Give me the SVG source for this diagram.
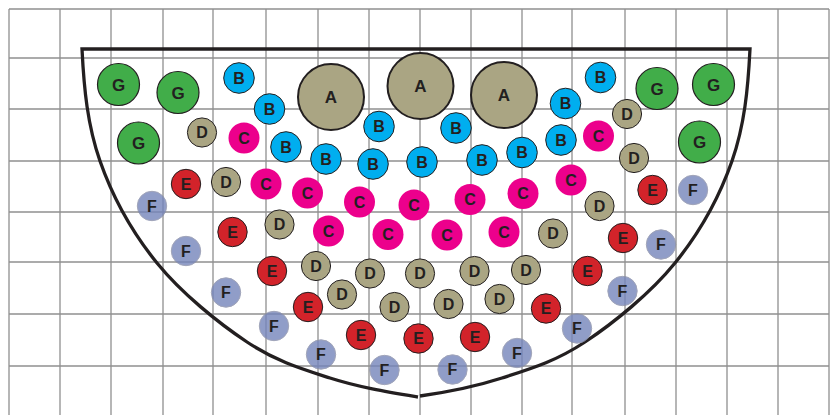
<svg xmlns="http://www.w3.org/2000/svg" width="835" height="415" viewBox="0 0 835 415">
<style>
.grid line{stroke:#8f8f8f;stroke-width:1.3}
.bowl{fill:none;stroke:#231f20;stroke-width:3.3;stroke-linejoin:miter}
text{font-family:"Liberation Sans",Arial,sans-serif;font-weight:bold;font-size:16px;fill:#231f20;text-anchor:middle}
.a circle{fill:#aaa583;stroke:#231f20;stroke-width:2}
.a text{font-size:17px}
.g circle{fill:#41ad49;stroke:#231f20;stroke-width:1.2}
.g text{font-size:17px}
.b circle{fill:#00aeef;stroke:#231f20;stroke-width:1}
.c circle{fill:#ec008c}
.d circle{fill:#aaa583;stroke:#231f20;stroke-width:1}
.e circle{fill:#d2232a;stroke:#231f20;stroke-width:1}
.f circle{fill:#7585bb;stroke:#8a8fa8;stroke-width:1;opacity:0.8}
</style>
<rect width="835" height="415" fill="#ffffff"/>
<g class="grid">
<line x1="9" y1="9" x2="9" y2="415"/><line x1="60" y1="9" x2="60" y2="415"/><line x1="111" y1="9" x2="111" y2="415"/><line x1="163" y1="9" x2="163" y2="415"/><line x1="213" y1="9" x2="213" y2="415"/><line x1="266" y1="9" x2="266" y2="415"/><line x1="318" y1="9" x2="318" y2="415"/><line x1="369" y1="9" x2="369" y2="415"/><line x1="420" y1="9" x2="420" y2="415"/><line x1="471" y1="9" x2="471" y2="415"/><line x1="522" y1="9" x2="522" y2="415"/><line x1="572" y1="9" x2="572" y2="415"/><line x1="625" y1="9" x2="625" y2="415"/><line x1="676" y1="9" x2="676" y2="415"/><line x1="727" y1="9" x2="727" y2="415"/><line x1="778" y1="9" x2="778" y2="415"/><line x1="829" y1="9" x2="829" y2="415"/>
<line x1="9" y1="9" x2="829" y2="9"/><line x1="9" y1="58" x2="829" y2="58"/><line x1="9" y1="109" x2="829" y2="109"/><line x1="9" y1="161" x2="829" y2="161"/><line x1="9" y1="212" x2="829" y2="212"/><line x1="9" y1="262" x2="829" y2="262"/><line x1="9" y1="314" x2="829" y2="314"/><line x1="9" y1="366" x2="829" y2="366"/>
</g>
<g id="bowl">
<path class="bowl" d="M418,397 C388,392 358.5,387.2 330,378 C301.5,368.8 275.8,361.2 247,342 C218.2,322.8 181.5,293.2 157,263 C132.5,232.8 112.5,196.7 100,161 C87.5,125.3 84,89 82,49 L750,49 C748,89 744.5,125.3 732,161 C719.5,196.7 699.5,232.8 675,263 C650.5,293.2 613.8,322.8 585,342 C556.2,361.2 530.5,368.8 502,378 C473.5,387.2 448,392 420,396"/>
</g>
<g id="a1" class="a"><circle cx="331" cy="97" r="33"/><text x="331" y="103">A</text></g>
<g id="a2" class="a"><circle cx="420.5" cy="86" r="33"/><text x="420.5" y="92">A</text></g>
<g id="a3" class="a"><circle cx="504" cy="95" r="33"/><text x="504" y="101">A</text></g>
<g id="g1" class="g"><circle cx="118.5" cy="84.5" r="21"/><text x="118.5" y="90.5">G</text></g>
<g id="g2" class="g"><circle cx="178" cy="92.5" r="21"/><text x="178" y="98.5">G</text></g>
<g id="g3" class="g"><circle cx="138.5" cy="143" r="21"/><text x="138.5" y="149">G</text></g>
<g id="g4" class="g"><circle cx="657" cy="88.5" r="21"/><text x="657" y="94.5">G</text></g>
<g id="g5" class="g"><circle cx="713.5" cy="84.5" r="21"/><text x="713.5" y="90.5">G</text></g>
<g id="g6" class="g"><circle cx="699.5" cy="142" r="21"/><text x="699.5" y="148">G</text></g>
<g id="b1" class="b"><circle cx="239" cy="78" r="15.3"/><text x="239" y="83.8">B</text></g>
<g id="b2" class="b"><circle cx="269.5" cy="109" r="15.3"/><text x="269.5" y="114.8">B</text></g>
<g id="b3" class="b"><circle cx="379" cy="126.5" r="15.3"/><text x="379" y="132.3">B</text></g>
<g id="b4" class="b"><circle cx="456" cy="128" r="15.3"/><text x="456" y="133.8">B</text></g>
<g id="b5" class="b"><circle cx="565.5" cy="103.5" r="15.3"/><text x="565.5" y="109.3">B</text></g>
<g id="b6" class="b"><circle cx="600.5" cy="77.5" r="15.3"/><text x="600.5" y="83.3">B</text></g>
<g id="b7" class="b"><circle cx="286" cy="147" r="15.3"/><text x="286" y="152.8">B</text></g>
<g id="b8" class="b"><circle cx="326" cy="159" r="15.3"/><text x="326" y="164.8">B</text></g>
<g id="b9" class="b"><circle cx="373" cy="164" r="15.3"/><text x="373" y="169.8">B</text></g>
<g id="b10" class="b"><circle cx="422" cy="162" r="15.3"/><text x="422" y="167.8">B</text></g>
<g id="b11" class="b"><circle cx="482" cy="160" r="15.3"/><text x="482" y="165.8">B</text></g>
<g id="b12" class="b"><circle cx="522" cy="152.5" r="15.3"/><text x="522" y="158.3">B</text></g>
<g id="b13" class="b"><circle cx="561" cy="140" r="15.3"/><text x="561" y="145.8">B</text></g>
<g id="c1" class="c"><circle cx="244" cy="138" r="15.5"/><text x="244" y="143.8">C</text></g>
<g id="c2" class="c"><circle cx="598.5" cy="136" r="15.5"/><text x="598.5" y="141.8">C</text></g>
<g id="c3" class="c"><circle cx="266" cy="184" r="15.5"/><text x="266" y="189.8">C</text></g>
<g id="c4" class="c"><circle cx="307.5" cy="193" r="15.5"/><text x="307.5" y="198.8">C</text></g>
<g id="c5" class="c"><circle cx="359.5" cy="202" r="15.5"/><text x="359.5" y="207.8">C</text></g>
<g id="c6" class="c"><circle cx="414" cy="205" r="15.5"/><text x="414" y="210.8">C</text></g>
<g id="c7" class="c"><circle cx="470" cy="199.5" r="15.5"/><text x="470" y="205.3">C</text></g>
<g id="c8" class="c"><circle cx="523" cy="193.5" r="15.5"/><text x="523" y="199.3">C</text></g>
<g id="c9" class="c"><circle cx="571" cy="180" r="15.5"/><text x="571" y="185.8">C</text></g>
<g id="c10" class="c"><circle cx="328.5" cy="231" r="15.5"/><text x="328.5" y="236.8">C</text></g>
<g id="c11" class="c"><circle cx="388" cy="234.5" r="15.5"/><text x="388" y="240.3">C</text></g>
<g id="c12" class="c"><circle cx="447" cy="235" r="15.5"/><text x="447" y="240.8">C</text></g>
<g id="c13" class="c"><circle cx="504" cy="232" r="15.5"/><text x="504" y="237.8">C</text></g>
<g id="d1" class="d"><circle cx="202" cy="132.5" r="14.6"/><text x="202" y="138.3">D</text></g>
<g id="d2" class="d"><circle cx="627" cy="114" r="14.6"/><text x="627" y="119.8">D</text></g>
<g id="d3" class="d"><circle cx="634" cy="158" r="14.6"/><text x="634" y="163.8">D</text></g>
<g id="d4" class="d"><circle cx="226" cy="182" r="14.6"/><text x="226" y="187.8">D</text></g>
<g id="d5" class="d"><circle cx="599.5" cy="206" r="14.6"/><text x="599.5" y="211.8">D</text></g>
<g id="d6" class="d"><circle cx="279.5" cy="224.5" r="14.6"/><text x="279.5" y="230.3">D</text></g>
<g id="d7" class="d"><circle cx="553" cy="233.5" r="14.6"/><text x="553" y="239.3">D</text></g>
<g id="d8" class="d"><circle cx="316" cy="266" r="14.6"/><text x="316" y="271.8">D</text></g>
<g id="d9" class="d"><circle cx="370" cy="273.5" r="14.6"/><text x="370" y="279.3">D</text></g>
<g id="d10" class="d"><circle cx="420" cy="273.5" r="14.6"/><text x="420" y="279.3">D</text></g>
<g id="d11" class="d"><circle cx="474.5" cy="271" r="14.6"/><text x="474.5" y="276.8">D</text></g>
<g id="d12" class="d"><circle cx="526" cy="270" r="14.6"/><text x="526" y="275.8">D</text></g>
<g id="d13" class="d"><circle cx="342" cy="294.5" r="14.6"/><text x="342" y="300.3">D</text></g>
<g id="d14" class="d"><circle cx="394.5" cy="307" r="14.6"/><text x="394.5" y="312.8">D</text></g>
<g id="d15" class="d"><circle cx="448.5" cy="304" r="14.6"/><text x="448.5" y="309.8">D</text></g>
<g id="d16" class="d"><circle cx="499.5" cy="299" r="14.6"/><text x="499.5" y="304.8">D</text></g>
<g id="e1" class="e"><circle cx="186" cy="184" r="14.7"/><text x="186" y="189.8">E</text></g>
<g id="e2" class="e"><circle cx="652.5" cy="190" r="14.7"/><text x="652.5" y="195.8">E</text></g>
<g id="e3" class="e"><circle cx="232.5" cy="232" r="14.7"/><text x="232.5" y="237.8">E</text></g>
<g id="e4" class="e"><circle cx="623" cy="238" r="14.7"/><text x="623" y="243.8">E</text></g>
<g id="e5" class="e"><circle cx="272" cy="271" r="14.7"/><text x="272" y="276.8">E</text></g>
<g id="e6" class="e"><circle cx="587.5" cy="271" r="14.7"/><text x="587.5" y="276.8">E</text></g>
<g id="e7" class="e"><circle cx="308" cy="307" r="14.7"/><text x="308" y="312.8">E</text></g>
<g id="e8" class="e"><circle cx="546" cy="308.5" r="14.7"/><text x="546" y="314.3">E</text></g>
<g id="e9" class="e"><circle cx="361" cy="335" r="14.7"/><text x="361" y="340.8">E</text></g>
<g id="e10" class="e"><circle cx="418.5" cy="338.5" r="14.7"/><text x="418.5" y="344.3">E</text></g>
<g id="e11" class="e"><circle cx="475" cy="337" r="14.7"/><text x="475" y="342.8">E</text></g>
<g id="f1" class="f"><circle cx="693" cy="190" r="14.7"/><text x="693" y="195.8">F</text></g>
<g id="f2" class="f"><circle cx="152" cy="206" r="14.7"/><text x="152" y="211.8">F</text></g>
<g id="f3" class="f"><circle cx="661" cy="244.5" r="14.7"/><text x="661" y="250.3">F</text></g>
<g id="f4" class="f"><circle cx="186" cy="251" r="14.7"/><text x="186" y="256.8">F</text></g>
<g id="f5" class="f"><circle cx="622.5" cy="291" r="14.7"/><text x="622.5" y="296.8">F</text></g>
<g id="f6" class="f"><circle cx="226" cy="292.5" r="14.7"/><text x="226" y="298.3">F</text></g>
<g id="f7" class="f"><circle cx="577" cy="328.5" r="14.7"/><text x="577" y="334.3">F</text></g>
<g id="f8" class="f"><circle cx="274" cy="326" r="14.7"/><text x="274" y="331.8">F</text></g>
<g id="f9" class="f"><circle cx="321" cy="354.5" r="14.7"/><text x="321" y="360.3">F</text></g>
<g id="f10" class="f"><circle cx="517" cy="353" r="14.7"/><text x="517" y="358.8">F</text></g>
<g id="f11" class="f"><circle cx="384.5" cy="370" r="14.7"/><text x="384.5" y="375.8">F</text></g>
<g id="f12" class="f"><circle cx="452.5" cy="369.5" r="14.7"/><text x="452.5" y="375.3">F</text></g>
</svg>
